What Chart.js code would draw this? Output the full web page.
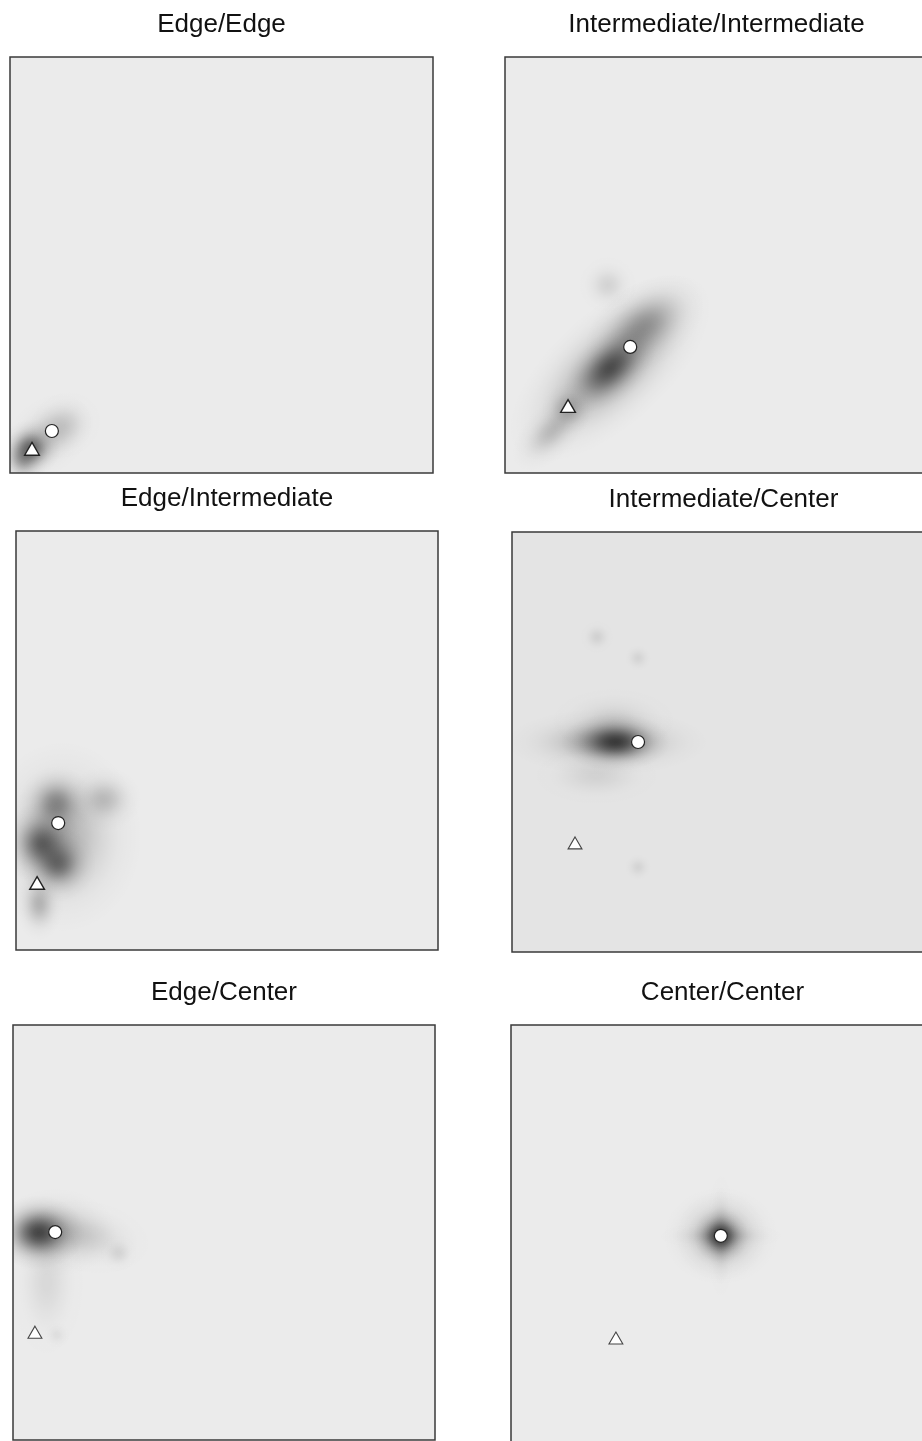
<!DOCTYPE html>
<html>
<head>
<meta charset="utf-8">
<script src="https://cdn.jsdelivr.net/npm/chart.js@4.4.1/dist/chart.umd.min.js"></script>
<style>
  html, body { margin: 0; padding: 0; background: #fff; width: 922px; height: 1441px; overflow: hidden; position: relative; }
  canvas { position: absolute; }
</style>
</head>
<body>
<canvas id="p0"></canvas>
<canvas id="p1"></canvas>
<canvas id="p2"></canvas>
<canvas id="p3"></canvas>
<canvas id="p4"></canvas>
<canvas id="p5"></canvas>
<script>
// panel titles, in reading order
const titles = ['Edge/Edge', 'Intermediate/Intermediate', 'Edge/Intermediate',
                'Intermediate/Center', 'Edge/Center', 'Center/Center'];

// white circle marker per panel (0..100 on both axes)
const circleX = [9.9, 29.6, 10.0, 29.8, 10.0, 49.6];
const circleY = [10.1, 30.3, 30.3, 50.0, 50.1, 49.8];

// white triangle marker per panel
const triangleX = [5.2, 14.9, 5.0, 14.9, 5.2, 24.8];
const triangleY = [5.3, 15.6, 15.5, 25.5, 25.5, 25.0];

// density blobs: [x, y, spreadX, spreadY, angle, weight]
const densityEdgeEdge = [
  [9, 9, 12, 9, 40, 0.16],
  [13, 11.5, 9, 8, 30, 0.1],
  [3, 3.5, 6, 7, 0, 0.3],
  [5, 6, 7, 7, 0, 0.5]
];
const densityIntInt = [
  [24.8, 25.2, 30, 14, 42, 0.35],
  [33, 35.5, 16, 10, 35, 0.3],
  [11, 10, 12, 6.5, 45, 0.18],
  [15, 15.5, 6.5, 6.5, 0, 0.2],
  [24.3, 45.2, 7, 7, 0, 0.1],
  [24.8, 25.2, 13, 8, 42, 0.5]
];
const densityEdgeInt = [
  [11, 27, 19, 23, 0, 0.25],
  [9.5, 35, 9, 9, 0, 0.35],
  [21, 36, 9, 8, 0, 0.18],
  [5.5, 11, 6, 9, 0, 0.22],
  [6, 25.5, 9.5, 10, 0, 0.5],
  [10, 20.5, 9, 9, 0, 0.45]
];
const densityIntCenter = [
  [22.5, 50, 24, 8, 0, 0.28],
  [24, 55, 15, 8, 0, 0.1],
  [20, 42, 15, 7, 0, 0.08],
  [20.1, 75, 4, 4, 0, 0.08],
  [29.8, 70, 3.5, 3.5, 0, 0.07],
  [29.8, 20.2, 3.5, 3.5, 0, 0.07],
  [24.5, 50, 13, 7, 0, 0.65]
];
const densityEdgeCenter = [
  [10, 50, 15, 11, 0, 0.2],
  [18, 49, 15, 9, -10, 0.1],
  [25, 45, 4.5, 4.5, 0, 0.08],
  [8, 38, 9, 18, 0, 0.08],
  [10.4, 25.3, 3.5, 3.5, 0, 0.05],
  [6, 50, 11, 9, 0, 0.65]
];
const densityCenterCenter = [
  [49.6, 49.8, 14, 12, 0, 0.2],
  [49.6, 49.8, 11, 11, 45, 0.12],
  [49.6, 49.8, 15, 3.5, 0, 0.1],
  [49.6, 49.8, 3.5, 15, 0, 0.1],
  [49.6, 49.8, 6.5, 6.5, 0, 0.65]
];
const densities = [densityEdgeEdge, densityIntInt, densityEdgeInt,
                   densityIntCenter, densityEdgeCenter, densityCenterCenter];

// layout of each plot box: left, top, width, height (px)
const boxes = [
  [10, 57, 423, 416], [505, 57, 423, 416],
  [16, 531, 422, 419], [512, 532, 423, 420],
  [13, 1025, 422, 415], [511, 1025, 423, 420]
];
const panelBg = ['#ebebeb', '#ebebeb', '#ebebeb', '#e4e4e4', '#ebebeb', '#ebebeb'];
const TITLE_H = 50, PAD = 2;

function densityPlugin(blobs, bg) {
  return {
    id: 'density',
    beforeDatasetsDraw(chart) {
      const { ctx, chartArea: a, scales: { x, y } } = chart;
      ctx.save();
      ctx.fillStyle = bg;
      ctx.fillRect(a.left, a.top, a.width, a.height);
      ctx.beginPath();
      ctx.rect(a.left, a.top, a.width, a.height);
      ctx.clip();
      for (const [bx, by, sx, sy, ang, w] of blobs) {
        const px = x.getPixelForValue(bx), py = y.getPixelForValue(by);
        const rx = Math.abs(x.getPixelForValue(bx + sx) - px);
        const ry = Math.abs(y.getPixelForValue(by + sy) - py);
        ctx.save();
        ctx.translate(px, py);
        ctx.rotate(-ang * Math.PI / 180);
        ctx.scale(rx, ry);
        const g = ctx.createRadialGradient(0, 0, 0, 0, 0, 1);
        // roughly gaussian falloff
        for (let k = 0; k <= 10; k++) {
          const t = k / 10;
          const v = k === 10 ? 0 : w * Math.exp(-t * t * 4.5);
          g.addColorStop(t, `rgba(0,0,0,${v.toFixed(4)})`);
        }
        ctx.fillStyle = g;
        ctx.beginPath();
        ctx.arc(0, 0, 1, 0, Math.PI * 2);
        ctx.fill();
        ctx.restore();
      }
      ctx.restore();
    },
    afterDraw(chart) {
      const { ctx, chartArea: a } = chart;
      ctx.save();
      ctx.strokeStyle = '#3a3a3a';
      ctx.lineWidth = 1.5;
      ctx.strokeRect(a.left, a.top, a.width, a.height);
      ctx.restore();
    }
  };
}

titles.forEach((title, i) => {
  const [left, top, w, h] = boxes[i];
  const canvas = document.getElementById('p' + i);
  canvas.width = w + PAD * 2;
  canvas.height = h + TITLE_H + PAD;
  canvas.style.left = (left - PAD) + 'px';
  canvas.style.top = (top - TITLE_H) + 'px';

  new Chart(canvas, {
    type: 'scatter',
    data: {
      datasets: [{
        label: 'circle',
        data: [{ x: circleX[i], y: circleY[i] }],
        pointStyle: 'circle',
        pointRadius: 6.5,
        backgroundColor: '#ffffff',
        borderColor: '#222222',
        borderWidth: 1.2
      }, {
        label: 'triangle',
        data: [{ x: triangleX[i], y: triangleY[i] }],
        pointStyle: 'triangle',
        pointRadius: i < 3 ? 8.5 : 8,
        backgroundColor: '#ffffff',
        borderColor: i < 3 ? '#222222' : '#444444',
        borderWidth: i < 3 ? 1.4 : 1.1
      }]
    },
    options: {
      responsive: false,
      animation: false,
      layout: { autoPadding: false, padding: { left: PAD, right: PAD, bottom: PAD, top: 0 } },
      scales: {
        x: { type: 'linear', min: 0, max: 100, display: false },
        y: { type: 'linear', min: 0, max: 100, display: false }
      },
      plugins: {
        legend: { display: false },
        tooltip: { enabled: false },
        title: {
          display: true,
          text: title,
          color: '#111111',
          font: { family: "'Liberation Sans', Arial, sans-serif", size: 26, weight: 'normal' },
          padding: { top: 2, bottom: 16.8 }
        }
      }
    },
    plugins: [densityPlugin(densities[i], panelBg[i])]
  });
});
</script>
</body>
</html>
